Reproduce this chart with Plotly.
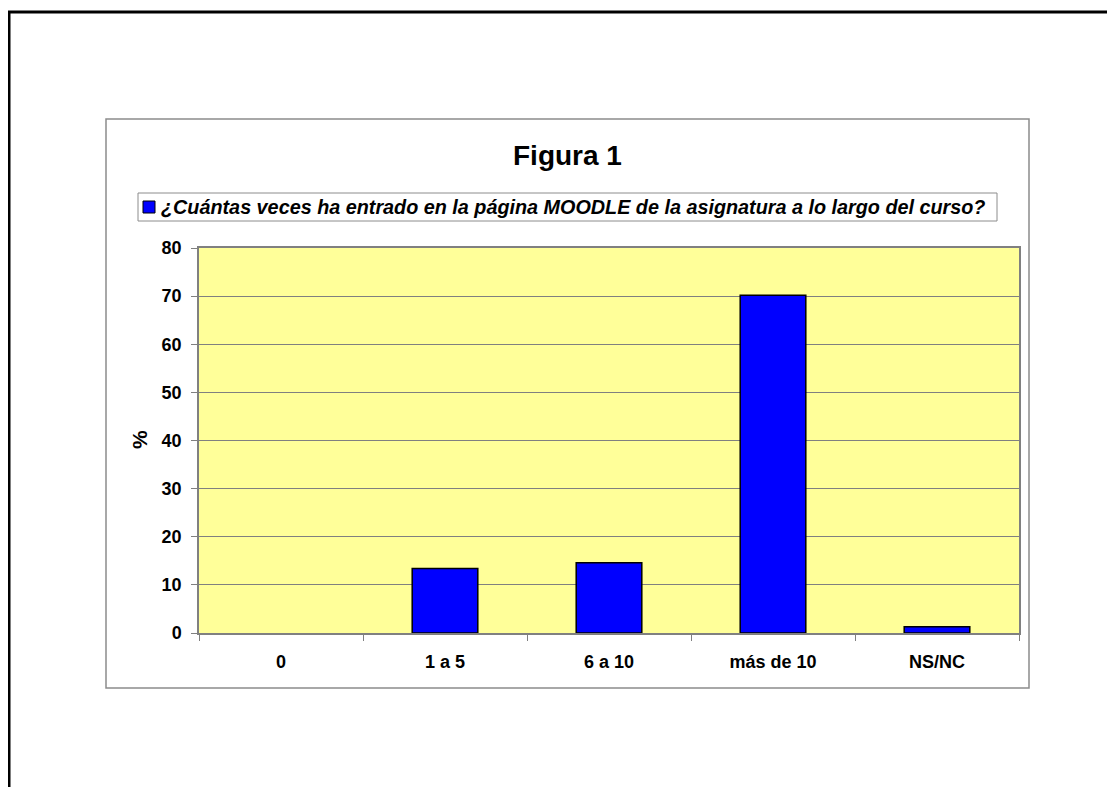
import plotly.graph_objects as go

categories = ["0", "1 a 5", "6 a 10", "más de 10", "NS/NC"]
values = [0, 13.4, 14.6, 70.2, 1.3]
y_ticks = [0, 10, 20, 30, 40, 50, 60, 70, 80]
series_name = "¿Cuántas veces ha entrado en la página MOODLE de la asignatura a lo largo del curso?"
title_text = "Figura 1"
y_title = "%"

OFF = 8  # page body margin
W, H = 1115 - OFF, 787 - OFF
L, R, T, B = 199 - OFF, 1019 - OFF, 248 - OFF, 633 - OFF  # plot area in figure pixels


def px(x):
    return (x - OFF - L) / (R - L)


def py(y):
    return (B - (y - OFF)) / (B - T)


FONT = "Liberation Sans, Arial, sans-serif"

fig = go.Figure()
fig.add_trace(go.Bar(
    x=categories, y=values, name=series_name,
    marker=dict(color="#0000FF",
                line=dict(color="#000000", width=[0 if v == 0 else 1.5 for v in values])),
    width=0.4, showlegend=False,
))

shapes = [
    # page border lines
    dict(type="line", xref="paper", yref="paper", x0=px(8), x1=px(1120), y0=py(12), y1=py(12),
         line=dict(color="#000000", width=3)),
    dict(type="line", xref="paper", yref="paper", x0=px(9), x1=px(9), y0=py(11), y1=py(800),
         line=dict(color="#000000", width=3)),
    # chart area box
    dict(type="rect", xref="paper", yref="paper", x0=px(106), x1=px(1029), y0=py(119), y1=py(688),
         line=dict(color="#8c8c8c", width=1.5), layer="below"),
    # legend box
    dict(type="rect", xref="paper", yref="paper", x0=px(138), x1=px(997), y0=py(193), y1=py(221),
         line=dict(color="#8c8c8c", width=1), fillcolor="white"),
    # legend symbol
    dict(type="rect", xref="paper", yref="paper", x0=px(143), x1=px(155), y0=py(201), y1=py(213),
         line=dict(color="#000000", width=1), fillcolor="#0000FF"),
]

annotations = [
    dict(text="<b>" + title_text + "</b>", xref="paper", yref="paper", x=px(567), y=py(156),
         xanchor="center", yanchor="middle", showarrow=False,
         font=dict(family=FONT, size=28, color="#000000")),
    dict(text="<b><i>" + series_name + "</i></b>", xref="paper", yref="paper", x=px(159), y=py(207),
         xanchor="left", yanchor="middle", showarrow=False,
         font=dict(family=FONT, size=19.8, color="#000000")),
    dict(text="<b>" + y_title + "</b>", xref="paper", yref="paper", x=px(139), y=py(440),
         xanchor="center", yanchor="middle", showarrow=False, textangle=-90,
         font=dict(family=FONT, size=21, color="#000000")),
]

fig.update_layout(
    width=W, height=H, autosize=False,
    margin=dict(l=L, r=W - R, t=T, b=H - B, pad=0),
    paper_bgcolor="white", plot_bgcolor="#FFFF99",
    shapes=shapes, annotations=annotations,
    bargap=0.6,
    font=dict(family=FONT, color="#000000"),
)
fig.update_xaxes(
    showline=True, linecolor="#808080", linewidth=1.5, mirror=True,
    ticks="outside", tickson="boundaries", ticklen=6, tickcolor="#808080",
    tickfont=dict(family=FONT, size=18, color="#000000", weight="bold"),
    showgrid=False, ticklabelstandoff=12,
)
fig.update_yaxes(
    range=[0, 80], tickvals=y_ticks, ticks="outside", ticklen=6, tickcolor="#808080",
    showline=True, linecolor="#808080", linewidth=1.5, mirror=True,
    showgrid=True, gridcolor="#808080", gridwidth=1, zeroline=False,
    tickfont=dict(family=FONT, size=18, color="#000000", weight="bold"),
    ticklabelstandoff=6,
)

fig.write_html("out.html")
